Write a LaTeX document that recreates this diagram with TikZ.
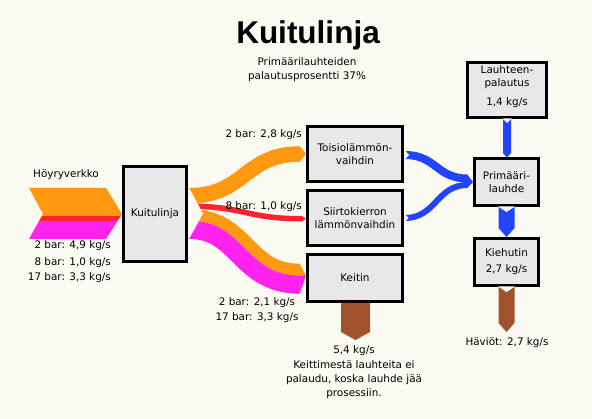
\documentclass[tikz,border=0pt]{standalone}
\usepackage{fontspec}
\setmainfont{DejaVu Sans}
\newfontfamily\titlefont{Liberation Sans}
\usetikzlibrary{calc}
\definecolor{bgcol}{RGB}{250,249,242}
\definecolor{boxcol}{RGB}{232,232,232}
\definecolor{col1}{RGB}{255,153,18}
\definecolor{col2}{RGB}{255,34,51}
\definecolor{col3}{RGB}{255,34,238}
\definecolor{col4}{RGB}{34,68,255}
\definecolor{col5}{RGB}{160,82,45}
\tikzset{
  box/.style={draw, line width=2.6pt, fill=boxcol, inner sep=0pt, outer sep=1.3pt, align=center, font=\fontsize{10.4}{13}\selectfont},
  lbl/.style={inner sep=0pt, font=\fontsize{10.4}{13}\selectfont}
}
\begin{document}
\begin{tikzpicture}[x=1pt, y=-1pt]
        \coordinate (origin) at (0, 0);
        \fill [bgcol] (origin) rectangle (592, 419);

        \node (kuitu) [box, minimum width=63.4, minimum height=95.4] at ($(origin) + (155, 214)$) {Kuitulinja};
        \node (toisio) [box, minimum width=95.4, minimum height=55.4] at ($(origin) + (355, 154)$) {Toisiolämmön-\\vaihdin};
        \node (siirto) [box, minimum width=95.4, minimum height=55.4] at ($(origin) + (355, 218)$) {Siirtokierron\\lämmönvaihdin};
        \node (keitin) [box, minimum width=95.4, minimum height=47.4] at ($(origin) + (355, 278)$) {Keitin};
        \node (palautus) [box, minimum width=79.4, minimum height=55.4] at ($(origin) + (507, 90)$) {Lauhteen-\\palautus\\[6pt]1,4 kg/s\\[-4pt]\mbox{}};
        \node (primaari) [box, minimum width=64.4, minimum height=47.4] at ($(origin) + (506.5, 182)$) {Primääri-\\lauhde};
        \node (kiehutin) [box, minimum width=64.4, minimum height=47.4] at ($(origin) + (506.5, 262)$) {Kiehutin\\[3pt]2,7 kg/s};

        % steam network in
        \begin{scope}
          \clip ($(kuitu.west) + (-93, -26)$) -- ($(kuitu.west) + (-16, -26)$) -- (kuitu.west) -- ($(kuitu.west) + (-16, 25)$) -- ($(kuitu.west) + (-93, 25)$) -- ($(kuitu.west) + (-79, 0)$) -- cycle;
          \fill [col1] ($(kuitu.west) + (-95, -27)$) rectangle ($(kuitu.west) + (1, 2)$);
          \fill [col2] ($(kuitu.west) + (-95, 2)$) rectangle ($(kuitu.west) + (1, 7.5)$);
          \fill [col3] ($(kuitu.west) + (-95, 7.5)$) rectangle ($(kuitu.west) + (1, 26)$);
        \end{scope}

        % steam out of the fibre line
        \draw [col1, line width=15.5pt] ($(kuitu.east) + (1, -18.25)$) .. controls +(56, 0) and +(-56, 0) .. ($(toisio.west) + (-6, 0)$);
        \fill [col1] ($(toisio.west) + (-6.3, -7.75)$) -- (toisio.west) -- ($(toisio.west) + (-6.3, 7.75)$) -- cycle;

        \draw [col2, line width=5.5pt] ($(kuitu.east) + (1, -7.75)$) .. controls +(56, 0) and +(-56, 0) .. ($(siirto.west) + (-4, 0.75)$);
        \fill [col2] ($(siirto.west) + (-4.3, -2)$) -- ($(siirto.west) + (0, 0.75)$) -- ($(siirto.west) + (-4.3, 3.5)$) -- cycle;

        \begin{scope}
          \clip ($(kuitu.east) + (1, 6.7)$) .. controls +(56, 0) and +(-56, 0) .. ($(keitin.west) + (-6, -2.5)$) -- ($(keitin.west) + (-6, -60)$) -- ($(kuitu.east) + (1, -60)$) -- cycle;
          \draw [col1, line width=23.4pt] ($(kuitu.east) + (1, 6.7)$) .. controls +(56, 0) and +(-56, 0) .. ($(keitin.west) + (-6, -2.5)$);
        \end{scope}
        \begin{scope}
          \clip ($(kuitu.east) + (1, 6.7)$) .. controls +(56, 0) and +(-56, 0) .. ($(keitin.west) + (-6, -2.5)$) -- ($(keitin.west) + (-6, 60)$) -- ($(kuitu.east) + (1, 60)$) -- cycle;
          \draw [col3, line width=36.6pt] ($(kuitu.east) + (1, 6.7)$) .. controls +(56, 0) and +(-56, 0) .. ($(keitin.west) + (-6, -2.5)$);
        \end{scope}
        \fill [col1] ($(keitin.west) + (-6.3, -14.2)$) -- ($(keitin.west) + (0, -2.5)$) -- ($(keitin.west) + (-6.3, -2.5)$) -- cycle;
        \fill [col3] ($(keitin.west) + (-6.3, -2.5)$) -- ($(keitin.west) + (0, -2.5)$) -- ($(keitin.west) + (-6.3, 15.8)$) -- cycle;
        \fill [bgcol] ($(kuitu.east) + (0.5, -27)$) -- ($(kuitu.east) + (15, -0.5)$) -- ($(kuitu.east) + (0.5, 26)$) -- cycle;

        % condensate
        \draw [col4, line width=8pt] ($(toisio.east) + (1, 1)$) .. controls +(31, 0) and +(-31, 0) .. ($(primaari.west) + (-5.5, -3.5)$);
        \draw [col4, line width=6pt] ($(siirto.east) + (1, 0)$) .. controls +(31, 0) and +(-31, 0) .. ($(primaari.west) + (-5.5, 3)$);
        \fill [col4] ($(primaari.west) + (-5.8, -7.5)$) -- (primaari.west) -- ($(primaari.west) + (-5.8, 6)$) -- cycle;
        \fill [bgcol] ($(toisio.east) + (0.5, -4)$) -- ($(toisio.east) + (5, 1)$) -- ($(toisio.east) + (0.5, 6)$) -- cycle;
        \fill [bgcol] ($(siirto.east) + (0.5, -4)$) -- ($(siirto.east) + (4.5, 0)$) -- ($(siirto.east) + (0.5, 4)$) -- cycle;

        \fill [col4] ($(palautus.south) + (-4, 0)$) -- ($(palautus.south) + (4, 0)$) -- ($(palautus.south) + (4, 34)$)
            -- ($(palautus.south) + (0, 38.5)$) -- ($(palautus.south) + (-4, 34)$) -- cycle;
        \fill [bgcol] ($(palautus.south) + (-4.5, -0.5)$) -- ($(palautus.south) + (0, 4)$) -- ($(palautus.south) + (4.5, -0.5)$) -- cycle;

        \fill [col4] ($(primaari.south) + (-8, 0)$) -- ($(primaari.south) + (8, 0)$) -- ($(kiehutin.north) + (8, -9)$)
            -- (kiehutin.north) -- ($(kiehutin.north) + (-8, -9)$) -- cycle;
        \fill [bgcol] ($(primaari.south) + (-8.5, -0.5)$) -- ($(primaari.south) + (0, 5)$) -- ($(primaari.south) + (8.5, -0.5)$) -- cycle;

        % losses
        \fill [col5] ($(kiehutin.south) + (-8, 0)$) -- ($(kiehutin.south) + (8, 0)$) -- ($(kiehutin.south) + (8, 36)$)
            -- ($(kiehutin.south) + (0, 45)$) -- ($(kiehutin.south) + (-8, 36)$) -- cycle;
        \fill [bgcol] ($(kiehutin.south) + (-8.5, -0.5)$) -- ($(kiehutin.south) + (0, 5)$) -- ($(kiehutin.south) + (8.5, -0.5)$) -- cycle;
        \fill [col5] ($(keitin.south) + (-14, 0)$) -- ($(keitin.south) + (15, 0)$) -- ($(keitin.south) + (15, 29)$)
            -- ($(keitin.south) + (0.5, 37)$) -- ($(keitin.south) + (-14, 29)$) -- cycle;

        \node (title) [anchor=base, inner sep=0pt, font=\titlefont\bfseries\fontsize{31.5}{36}\selectfont] at ($(origin) + (308, 44)$) {Kuitulinja};
        \node (sub1) [lbl, anchor=base] at ($(origin) + (307, 65.5)$) {Primäärilauhteiden};
        \node (sub2) [lbl, anchor=base] at ($(origin) + (307, 79.5)$) {palautusprosentti 37\%};

        \node (hoyry) [lbl, anchor=base] at ($(origin) + (66, 178)$) {Höyryverkko};
        \node (in2) [lbl, anchor=base east] at ($(origin) + (111, 249)$) {2 bar: 4,9 kg/s};
        \node (in8) [lbl, anchor=base east] at ($(origin) + (111, 265.5)$) {8 bar: 1,0 kg/s};
        \node (in17) [lbl, anchor=base east] at ($(origin) + (111, 281)$) {17 bar: 3,3 kg/s};

        \node (out2) [lbl, anchor=base east] at ($(origin) + (302, 138)$) {2 bar: 2,8 kg/s};
        \node (out8) [lbl, anchor=base east] at ($(origin) + (302, 210)$) {8 bar: 1,0 kg/s};
        \node (keit2) [lbl, anchor=base] at ($(origin) + (257, 306)$) {2 bar: 2,1 kg/s};
        \node (keit17) [lbl, anchor=base] at ($(origin) + (257, 321)$) {17 bar: 3,3 kg/s};

        \node (keitout) [lbl, anchor=base] at ($(origin) + (354, 354)$) {5,4 kg/s};
        \node (note1) [lbl, anchor=base] at ($(origin) + (354, 369)$) {Keittimestä lauhteita ei};
        \node (note2) [lbl, anchor=base] at ($(origin) + (354, 383)$) {palaudu, koska lauhde jää};
        \node (note3) [lbl, anchor=base] at ($(origin) + (354, 397)$) {prosessiin.};
        \node (haviot) [lbl, anchor=base] at ($(origin) + (507, 346)$) {Häviöt: 2,7 kg/s};
      \end{tikzpicture}
\end{document}
